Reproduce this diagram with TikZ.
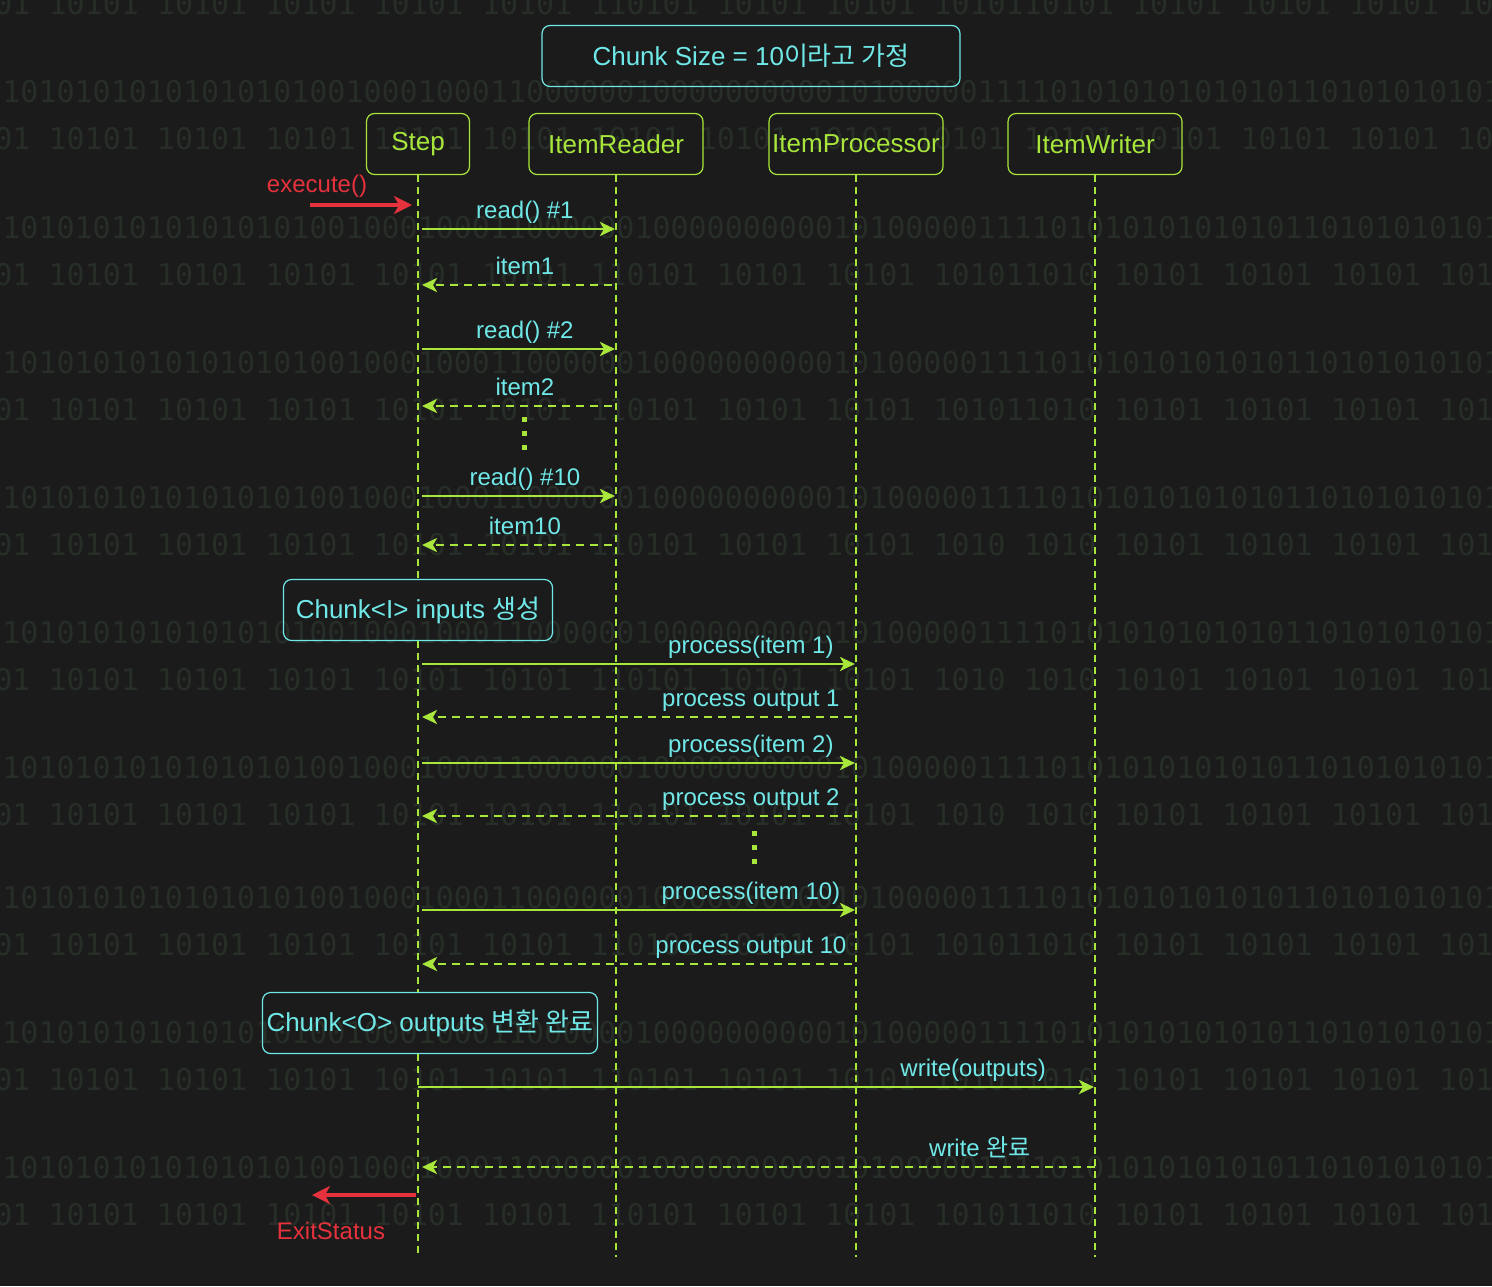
\documentclass[tikz,border=0pt]{standalone}
\usepackage{fontspec}
\setmainfont{Liberation Sans}
\newfontfamily\kr{Noto Sans CJK KR}
\newfontfamily\binfont{DejaVu Sans Mono}
\usetikzlibrary{arrows.meta,positioning}
\definecolor{bg}{HTML}{1B1B1B}
\definecolor{lime}{HTML}{A8E63C}
\definecolor{aqua}{HTML}{70E8E8}
\definecolor{alert}{HTML}{E5323D}
\definecolor{bits}{HTML}{272D27}

\begin{document}
\begin{tikzpicture}[x=0.5pt,y=-0.5pt,
  actor/.style={draw=lime,rounded corners=4pt,line width=0.6pt,text=lime,minimum height=30.5pt,inner sep=0pt,font=\fontsize{13}{15}\selectfont},
  note/.style={draw=aqua,rounded corners=4pt,line width=0.6pt,text=aqua,minimum height=30.5pt,inner sep=0pt,font=\fontsize{13}{15}\selectfont},
  life/.style={draw=lime,line width=1.1pt,dash pattern=on 3.5pt off 2.5pt},
  call/.style={draw=lime,line width=1.4pt,-{Stealth[length=7.5pt,width=7pt,inset=2pt]},shorten <=2pt,shorten >=0.5pt},
  reply/.style={call,dash pattern=on 4pt off 3pt,shorten >=2pt},
  lbl/.style={text=aqua,anchor=base,yshift=5.5pt,font=\fontsize{12}{14}\selectfont},
  ext/.style={draw=alert,line width=1.6pt,-{Stealth[length=9pt,width=9pt,inset=2.5pt]}},
  extlbl/.style={text=alert,font=\fontsize{12}{14}\selectfont},
  vdots/.style={draw=lime,line width=2.5pt,dash pattern=on 2.5pt off 4.5pt},
  bitrow/.style={anchor=west,inner sep=0pt,text=bits,font=\binfont\fontsize{15}{15}\selectfont}]
\fill[bg] (0,0) rectangle (1492,1286);
\useasboundingbox (0,0) rectangle (1492,1286);
% binary backdrop
\begin{scope}
\clip (0,0) rectangle (1492,1286);
\foreach \y in {92,228,363,498,633,768,898,1033,1168}
  \node[bitrow] (long\y) at (2,\y) {1010101010101010100100010001100000010000000000101000001111010101010101011010101010101010100};
\foreach \y/\s in {4/01 10101 10101 10101 10101 10101 110101 10101 10101 1010110101 10101 10101 10101 10101,
  139/01 10101 10101 10101 10101 10101 10101 10101 10101 10101 10101 10101 10101 10101 10101,
  275/01 10101 10101 10101 10101 10101 110101 10101 10101 101011010 10101 10101 10101 10101,
  410/01 10101 10101 10101 10101 10101 110101 10101 10101 101011010 10101 10101 10101 10101,
  545/01 10101 10101 10101 10101 10101 110101 10101 10101 1010 1010 10101 10101 10101 10101,
  680/01 10101 10101 10101 10101 10101 110101 10101 10101 1010 1010 10101 10101 10101 10101,
  815/01 10101 10101 10101 10101 10101 110101 10101 10101 1010 1010 10101 10101 10101 10101,
  945/01 10101 10101 10101 10101 10101 110101 10101 10101 101011010 10101 10101 10101 10101,
  1080/01 10101 10101 10101 10101 10101 110101 10101 10101 101011010 10101 10101 10101 10101,
  1215/01 10101 10101 10101 10101 10101 110101 10101 10101 101011010 10101 10101 10101 10101}
  \node[bitrow] (short\y) at (-6,\y) {\s};
\end{scope}

\node[note,minimum width=209pt] (size) at (751,56) {Chunk Size = 10{\kr 이라고 가정}};
\node[actor,minimum width=51.5pt] (step) at (418,144) {Step};
\node[actor,minimum width=87pt] (reader) at (616,144) {ItemReader};
\node[actor,minimum width=87pt] (proc) at (856,144) {ItemProcessor};
\node[actor,minimum width=87pt] (writer) at (1095,144) {ItemWriter};
\node[note,minimum width=134.5pt] (inputs) at (418,610) {Chunk<I> inputs {\kr 생성}};
\node[note,minimum width=167.5pt] (outputs) at (430,1023) {Chunk<O> outputs {\kr 변환 완료}};

\coordinate (bottom) at (0,1257);
\foreach \n in {reader,proc,writer}
  \draw[life] (\n.south) -- (\n |- bottom);
\draw[life] (step.south) -- (step |- inputs.north);
\draw[life] (step |- inputs.south) -- (step |- outputs.north);
\draw[life] (step |- outputs.south) -- (step |- bottom);

\coordinate (go) at (310,205);
\node[extlbl] (exec) at (317,186) {execute()};
\draw[ext] (go) -- ([xshift=-3pt]step |- go);

\foreach \a/\b/\n in {229/285/1,349/406/2,496/545/10}{
  \coordinate (rd\n) at (0,\a);
  \coordinate (it\n) at (0,\b);
  \draw[call] (step |- rd\n) -- node[lbl,pos=0.54] {read() \#\n} (reader |- rd\n);
  \draw[reply] (reader |- it\n) -- node[lbl,pos=0.46] {item\n} (step |- it\n);
}
\coordinate (dots1) at (524,417);
\draw[vdots] (dots1) -- ++(0,34);

\foreach \a/\b/\n in {664/717/1,763/816/2,910/964/10}{
  \coordinate (pr\n) at (0,\a);
  \coordinate (po\n) at (0,\b);
  \draw[call] (step |- pr\n) -- node[lbl,pos=0.76] {process(item \n)} (proc |- pr\n);
  \draw[reply] (proc |- po\n) -- node[lbl,pos=0.24] {process output \n} (step |- po\n);
}
\coordinate (dots2) at (754,831);
\draw[vdots] (dots2) -- ++(0,34);

\coordinate (wr) at (0,1087);
\coordinate (wd) at (0,1167);
\draw[call,shorten <=0pt] (step |- wr) -- node[lbl,pos=0.82] {write(outputs)} (writer |- wr);
\draw[reply,shorten <=0pt] (writer |- wd) -- node[lbl,pos=0.17] {write {\kr 완료}} (step |- wd);

\coordinate (back) at (312,1195);
\draw[ext] ([xshift=-1pt]step |- back) -- (back);
\node[extlbl] (exit) at (331,1231) {ExitStatus};
\end{tikzpicture}
\end{document}
